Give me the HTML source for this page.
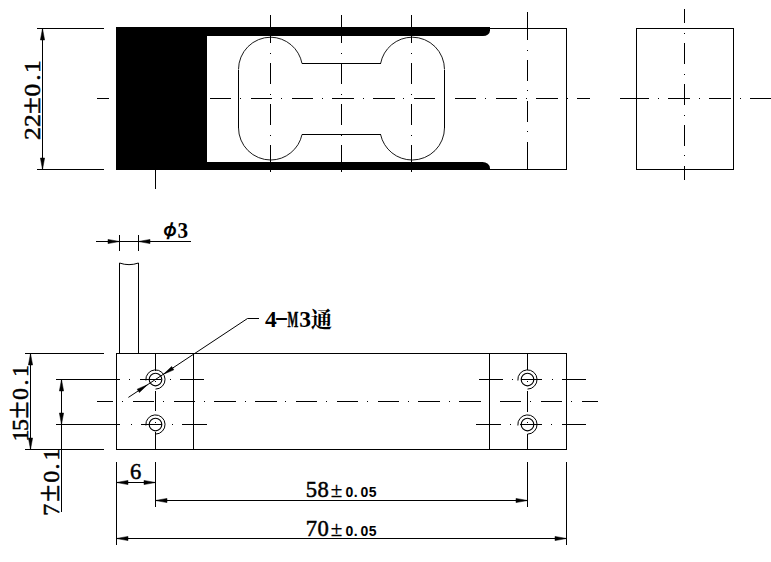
<!DOCTYPE html>
<html lang="zh">
<head>
<meta charset="utf-8">
<title>Load cell dimension drawing</title>
<style>
html,body{margin:0;padding:0;background:#fff;}
body{width:771px;height:562px;overflow:hidden;}
svg{display:block;}
.l{stroke:#000;stroke-width:1;shape-rendering:crispEdges;fill:none;}
.n{fill:none;}
.d{fill:#000;shape-rendering:crispEdges;}
.k{fill:#000;}
.s{stroke:#000;stroke-width:0.9;fill:none;}
.s2{stroke:#000;stroke-width:1;fill:none;}
.h{stroke:#000;stroke-width:1.15;fill:none;}
.a{fill:#000;stroke:#000;stroke-width:0.5;stroke-linejoin:round;}
text{fill:#000;}
.c{text-anchor:middle;}
.sf{font-family:"Liberation Serif",serif;font-size:22.6px;stroke:#000;stroke-width:0.5px;}
.pm{font-family:"Liberation Serif",serif;font-size:21px;stroke:#000;stroke-width:0.3px;}
.sb{font-family:"Liberation Sans",sans-serif;font-weight:bold;font-size:14px;stroke:none;}
.b3{font-family:"Liberation Serif",serif;font-weight:bold;font-size:24px;}
.phi{font-family:"IPAGothic","Liberation Sans",sans-serif;font-weight:bold;font-size:20px;}
.lb{font-family:"Liberation Serif","Noto Serif CJK SC",serif;font-weight:bold;font-size:23.6px;}
.lm{stroke:#000;stroke-width:0.5px;}
.cj{font-size:21.5px;}
</style>
</head>
<body>
<svg width="771" height="562" viewBox="0 0 771 562">
<rect x="0" y="0" width="771" height="562" fill="#fff"/>
<!-- top view -->
<path class="k" d="M116,27 H490 V30.5 A7,5.5 0 0 1 483,36 H207 V162 H482.5 A7.5,6.4 0 0 1 490,168.4 V170 H116 Z"/>
<line class="l" x1="490" y1="28.5" x2="567" y2="28.5"/>
<line class="l" x1="490" y1="169.5" x2="567" y2="169.5"/>
<line class="l" x1="566.5" y1="28" x2="566.5" y2="170"/>
<line class="l" x1="302.0" y1="63.5" x2="380.6" y2="63.5"/>
<line class="l" x1="302.0" y1="134.5" x2="380.6" y2="134.5"/>
<line class="l" x1="238.5" y1="69.5" x2="238.5" y2="127.7"/>
<line class="l" x1="444.5" y1="69.5" x2="444.5" y2="127.7"/>
<path class="s" d="M380.6,63.5 A32.3,32.3 0 0 1 412.2,37.2"/>
<path class="s" d="M412.2,37.2 A32.3,32.3 0 0 1 444.5,69.5"/>
<path class="s" d="M444.5,127.7 A32.3,32.3 0 0 1 412.2,160.0"/>
<path class="s" d="M412.2,160.0 A32.3,32.3 0 0 1 380.6,134.5"/>
<path class="s" d="M302.0,134.5 A32.3,32.3 0 0 1 270.8,160.0"/>
<path class="s" d="M270.8,160.0 A32.3,32.3 0 0 1 238.5,127.7"/>
<path class="s" d="M238.5,69.5 A32.3,32.3 0 0 1 270.8,37.2"/>
<path class="s" d="M270.8,37.2 A32.3,32.3 0 0 1 302.0,63.5"/>
<line class="l" x1="97" y1="98.5" x2="109" y2="98.5"/>
<line class="l" x1="128" y1="98.5" x2="150" y2="98.5"/>
<line class="l" x1="169" y1="98.5" x2="191" y2="98.5"/>
<line class="l" x1="210" y1="98.5" x2="231" y2="98.5"/>
<line class="l" x1="251" y1="98.5" x2="272" y2="98.5"/>
<line class="l" x1="292" y1="98.5" x2="313" y2="98.5"/>
<line class="l" x1="332" y1="98.5" x2="354" y2="98.5"/>
<line class="l" x1="373" y1="98.5" x2="395" y2="98.5"/>
<line class="l" x1="414" y1="98.5" x2="435" y2="98.5"/>
<line class="l" x1="455" y1="98.5" x2="476" y2="98.5"/>
<line class="l" x1="496" y1="98.5" x2="517" y2="98.5"/>
<line class="l" x1="536" y1="98.5" x2="558" y2="98.5"/>
<line class="l" x1="577" y1="98.5" x2="590" y2="98.5"/>
<rect class="d" x="118" y="98" width="1" height="1"/>
<rect class="d" x="159" y="98" width="1" height="1"/>
<rect class="d" x="199" y="98" width="1" height="1"/>
<rect class="d" x="240" y="98" width="1" height="1"/>
<rect class="d" x="281" y="98" width="1" height="1"/>
<rect class="d" x="322" y="98" width="1" height="1"/>
<rect class="d" x="363" y="98" width="1" height="1"/>
<rect class="d" x="403" y="98" width="1" height="1"/>
<rect class="d" x="444" y="98" width="1" height="1"/>
<rect class="d" x="485" y="98" width="1" height="1"/>
<rect class="d" x="526" y="98" width="1" height="1"/>
<rect class="d" x="567" y="98" width="1" height="1"/>
<line class="l" x1="270.5" y1="15" x2="270.5" y2="43"/>
<line class="l" x1="270.5" y1="63" x2="270.5" y2="84"/>
<line class="l" x1="270.5" y1="104" x2="270.5" y2="125"/>
<line class="l" x1="270.5" y1="145" x2="270.5" y2="172"/>
<rect class="d" x="270" y="53" width="1" height="1"/>
<rect class="d" x="270" y="94" width="1" height="1"/>
<rect class="d" x="270" y="135" width="1" height="1"/>
<line class="l" x1="341.5" y1="15" x2="341.5" y2="43"/>
<line class="l" x1="341.5" y1="63" x2="341.5" y2="84"/>
<line class="l" x1="341.5" y1="104" x2="341.5" y2="125"/>
<line class="l" x1="341.5" y1="145" x2="341.5" y2="172"/>
<rect class="d" x="341" y="53" width="1" height="1"/>
<rect class="d" x="341" y="94" width="1" height="1"/>
<rect class="d" x="341" y="135" width="1" height="1"/>
<line class="l" x1="411.5" y1="15" x2="411.5" y2="43"/>
<line class="l" x1="411.5" y1="63" x2="411.5" y2="84"/>
<line class="l" x1="411.5" y1="104" x2="411.5" y2="125"/>
<line class="l" x1="411.5" y1="145" x2="411.5" y2="172"/>
<rect class="d" x="411" y="53" width="1" height="1"/>
<rect class="d" x="411" y="94" width="1" height="1"/>
<rect class="d" x="411" y="135" width="1" height="1"/>
<line class="l" x1="527.5" y1="12" x2="527.5" y2="40"/>
<line class="l" x1="527.5" y1="60" x2="527.5" y2="81"/>
<line class="l" x1="527.5" y1="101" x2="527.5" y2="122"/>
<line class="l" x1="527.5" y1="142" x2="527.5" y2="170"/>
<rect class="d" x="527" y="50" width="1" height="1"/>
<rect class="d" x="527" y="90" width="1" height="1"/>
<rect class="d" x="527" y="131" width="1" height="1"/>
<line class="l" x1="155.5" y1="170" x2="155.5" y2="189"/>
<!-- side view -->
<rect class="l n" x="636.5" y="28.5" width="97" height="141"/>
<line class="l" x1="684.5" y1="9" x2="684.5" y2="23"/>
<line class="l" x1="684.5" y1="43" x2="684.5" y2="64"/>
<line class="l" x1="684.5" y1="84" x2="684.5" y2="105"/>
<line class="l" x1="684.5" y1="125" x2="684.5" y2="146"/>
<line class="l" x1="684.5" y1="166" x2="684.5" y2="180"/>
<rect class="d" x="684" y="33" width="1" height="1"/>
<rect class="d" x="684" y="74" width="1" height="1"/>
<rect class="d" x="684" y="115" width="1" height="1"/>
<rect class="d" x="684" y="155" width="1" height="1"/>
<line class="l" x1="620" y1="98.5" x2="649" y2="98.5"/>
<line class="l" x1="668" y1="98.5" x2="690" y2="98.5"/>
<line class="l" x1="709" y1="98.5" x2="731" y2="98.5"/>
<line class="l" x1="750" y1="98.5" x2="771" y2="98.5"/>
<rect class="d" x="658" y="98" width="1" height="1"/>
<rect class="d" x="699" y="98" width="1" height="1"/>
<rect class="d" x="740" y="98" width="1" height="1"/>
<line class="l" x1="37" y1="28.5" x2="104" y2="28.5"/>
<line class="l" x1="37" y1="169.5" x2="104" y2="169.5"/>
<line class="l" x1="42.5" y1="28" x2="42.5" y2="170"/>
<polygon class="a" points="42.50,28.50 44.60,40.00 40.40,40.00"/>
<polygon class="a" points="42.50,169.50 40.40,158.00 44.60,158.00"/>
<!-- front view -->
<rect class="l n" x="116.5" y="353.5" width="450" height="96"/>
<line class="l" x1="193.5" y1="353" x2="193.5" y2="450"/>
<line class="l" x1="489.5" y1="353" x2="489.5" y2="450"/>
<line class="l" x1="119.5" y1="263" x2="119.5" y2="353"/>
<line class="l" x1="138.5" y1="263" x2="138.5" y2="353"/>
<path class="s2" d="M119.5,263 Q129,266.3 138.5,263"/>
<line class="l" x1="96" y1="241.5" x2="190.5" y2="241.5"/>
<line class="l" x1="119.5" y1="235" x2="119.5" y2="251"/>
<line class="l" x1="138.5" y1="235" x2="138.5" y2="251"/>
<polygon class="a" points="119.50,241.50 108.00,243.60 108.00,239.40"/>
<polygon class="a" points="138.50,241.50 150.00,239.40 150.00,243.60"/>
<line class="l" x1="97" y1="401.5" x2="113" y2="401.5"/>
<line class="l" x1="133" y1="401.5" x2="154" y2="401.5"/>
<line class="l" x1="174" y1="401.5" x2="195" y2="401.5"/>
<line class="l" x1="214" y1="401.5" x2="236" y2="401.5"/>
<line class="l" x1="255" y1="401.5" x2="277" y2="401.5"/>
<line class="l" x1="296" y1="401.5" x2="317" y2="401.5"/>
<line class="l" x1="337" y1="401.5" x2="358" y2="401.5"/>
<line class="l" x1="378" y1="401.5" x2="399" y2="401.5"/>
<line class="l" x1="418" y1="401.5" x2="440" y2="401.5"/>
<line class="l" x1="459" y1="401.5" x2="481" y2="401.5"/>
<line class="l" x1="500" y1="401.5" x2="521" y2="401.5"/>
<line class="l" x1="541" y1="401.5" x2="562" y2="401.5"/>
<line class="l" x1="582" y1="401.5" x2="598" y2="401.5"/>
<rect class="d" x="122" y="401" width="1" height="1"/>
<rect class="d" x="163" y="401" width="1" height="1"/>
<rect class="d" x="204" y="401" width="1" height="1"/>
<rect class="d" x="245" y="401" width="1" height="1"/>
<rect class="d" x="285" y="401" width="1" height="1"/>
<rect class="d" x="326" y="401" width="1" height="1"/>
<rect class="d" x="367" y="401" width="1" height="1"/>
<rect class="d" x="408" y="401" width="1" height="1"/>
<rect class="d" x="449" y="401" width="1" height="1"/>
<rect class="d" x="489" y="401" width="1" height="1"/>
<rect class="d" x="530" y="401" width="1" height="1"/>
<rect class="d" x="571" y="401" width="1" height="1"/>
<circle class="h" cx="155.5" cy="379.5" r="6.3"/>
<path class="s2" d="M155.5,389.1 A9.6,9.6 0 1 0 145.9,380.5"/>
<circle class="h" cx="155.5" cy="424.5" r="6.3"/>
<path class="s2" d="M155.5,434.1 A9.6,9.6 0 1 0 145.9,425.5"/>
<circle class="h" cx="527.5" cy="379.5" r="6.3"/>
<path class="s2" d="M527.5,389.1 A9.6,9.6 0 1 0 517.9,380.5"/>
<circle class="h" cx="527.5" cy="424.5" r="6.3"/>
<path class="s2" d="M527.5,434.1 A9.6,9.6 0 1 0 517.9,425.5"/>
<line class="l" x1="155.5" y1="354" x2="155.5" y2="371"/>
<line class="l" x1="155.5" y1="391" x2="155.5" y2="411"/>
<line class="l" x1="155.5" y1="432" x2="155.5" y2="450"/>
<rect class="d" x="155" y="381" width="1" height="1"/>
<rect class="d" x="155" y="422" width="1" height="1"/>
<line class="l" x1="527.5" y1="354" x2="527.5" y2="370"/>
<line class="l" x1="527.5" y1="391" x2="527.5" y2="412"/>
<line class="l" x1="527.5" y1="434" x2="527.5" y2="450"/>
<rect class="d" x="527" y="381" width="1" height="1"/>
<rect class="d" x="527" y="422" width="1" height="1"/>
<line class="l" x1="56" y1="379.5" x2="120" y2="379.5"/>
<line class="l" x1="140" y1="379.5" x2="161" y2="379.5"/>
<line class="l" x1="180" y1="379.5" x2="204" y2="379.5"/>
<rect class="d" x="129" y="379" width="1" height="1"/>
<rect class="d" x="170" y="379" width="1" height="1"/>
<line class="l" x1="56" y1="424.5" x2="120" y2="424.5"/>
<line class="l" x1="141" y1="424.5" x2="162" y2="424.5"/>
<line class="l" x1="182" y1="424.5" x2="207" y2="424.5"/>
<rect class="d" x="131" y="424" width="1" height="1"/>
<rect class="d" x="172" y="424" width="1" height="1"/>
<line class="l" x1="479" y1="379.5" x2="503" y2="379.5"/>
<line class="l" x1="521" y1="379.5" x2="542" y2="379.5"/>
<line class="l" x1="562" y1="379.5" x2="586" y2="379.5"/>
<rect class="d" x="512" y="379" width="1" height="1"/>
<rect class="d" x="552" y="379" width="1" height="1"/>
<line class="l" x1="476" y1="424.5" x2="501" y2="424.5"/>
<line class="l" x1="520" y1="424.5" x2="542" y2="424.5"/>
<line class="l" x1="562" y1="424.5" x2="586" y2="424.5"/>
<rect class="d" x="510" y="424" width="1" height="1"/>
<rect class="d" x="551" y="424" width="1" height="1"/>
<line class="l" x1="24.5" y1="353.5" x2="103.5" y2="353.5"/>
<line class="l" x1="24.5" y1="449.5" x2="103.5" y2="449.5"/>
<line class="l" x1="30.5" y1="353" x2="30.5" y2="450"/>
<polygon class="a" points="30.50,353.50 32.60,365.00 28.40,365.00"/>
<polygon class="a" points="30.50,449.50 28.40,438.00 32.60,438.00"/>
<line class="l" x1="61.5" y1="379" x2="61.5" y2="512"/>
<polygon class="a" points="61.50,379.50 63.60,391.00 59.40,391.00"/>
<polygon class="a" points="61.50,424.50 59.40,413.00 63.60,413.00"/>
<line class="l" x1="116.5" y1="462" x2="116.5" y2="544.5"/>
<line class="l" x1="155.5" y1="462" x2="155.5" y2="506.5"/>
<line class="l" x1="527.5" y1="462" x2="527.5" y2="507"/>
<line class="l" x1="566.5" y1="462" x2="566.5" y2="545"/>
<line class="l" x1="116.5" y1="482.5" x2="155.5" y2="482.5"/>
<polygon class="a" points="116.50,482.50 128.00,480.40 128.00,484.60"/>
<polygon class="a" points="155.50,482.50 144.00,484.60 144.00,480.40"/>
<line class="l" x1="155.5" y1="500.5" x2="527.5" y2="500.5"/>
<polygon class="a" points="155.50,500.50 167.00,498.40 167.00,502.60"/>
<polygon class="a" points="527.50,500.50 516.00,502.60 516.00,498.40"/>
<line class="l" x1="116.5" y1="538.5" x2="566.5" y2="538.5"/>
<polygon class="a" points="116.50,538.50 128.00,536.40 128.00,540.60"/>
<polygon class="a" points="566.50,538.50 555.00,540.60 555.00,536.40"/>
<path class="s2" d="M128.4,397.4 L247.5,318.5 H259"/>
<polygon class="a" points="163.52,374.22 171.61,366.51 173.81,369.85"/>
<polygon class="a" points="147.48,384.78 139.39,392.49 137.19,389.15"/>
<!-- labels -->
<text class="sf c" transform="translate(39.9,133.6) rotate(-90) scale(1.13,1)" x="0.00 11.42 24.78 38.58 49.56 59.29" y="0">22<tspan style="font-size:27px">±</tspan>0.1</text>
<text class="sf c" transform="translate(27.8,435.4) rotate(-90)" x="0.00 10.40 25.40 41.40 52.90 64.50" y="0" style="font-size:24px">15<tspan style="font-size:31px">±</tspan>0.1</text>
<text class="sf c" transform="translate(59.4,509.8) rotate(-90)" x="0.00 16.50 33.00 43.20 55.30" y="0" style="font-size:24px">7<tspan style="font-size:31px">±</tspan>0.1</text>
<text class="sf c" x="135.6" y="479.4">6</text>
<text class="sf c" x="311.5 323.1 336.4 349.3 355.6 364.4 372.7" y="497.1">58<tspan class="pm">±</tspan><tspan class="sb">0.05</tspan></text>
<text class="sf c" x="311.5 323.1 336.4 349.3 355.6 364.4 372.7" y="535.6">70<tspan class="pm">±</tspan><tspan class="sb">0.05</tspan></text>
<text class="phi c" x="170 182.8" y="236.8 238.4">φ<tspan class="b3" textLength="10.6" lengthAdjust="spacingAndGlyphs">3</tspan></text>
<text class="lb c" x="270.8 281.6 293 305.2 321.5" y="326.6 324.6 326.6 326.6 326.5">4<tspan textLength="14" lengthAdjust="spacingAndGlyphs">-</tspan><tspan class="lm" textLength="10.8" lengthAdjust="spacingAndGlyphs">M</tspan>3<tspan class="cj">通</tspan></text>
</svg>
</body>
</html>
